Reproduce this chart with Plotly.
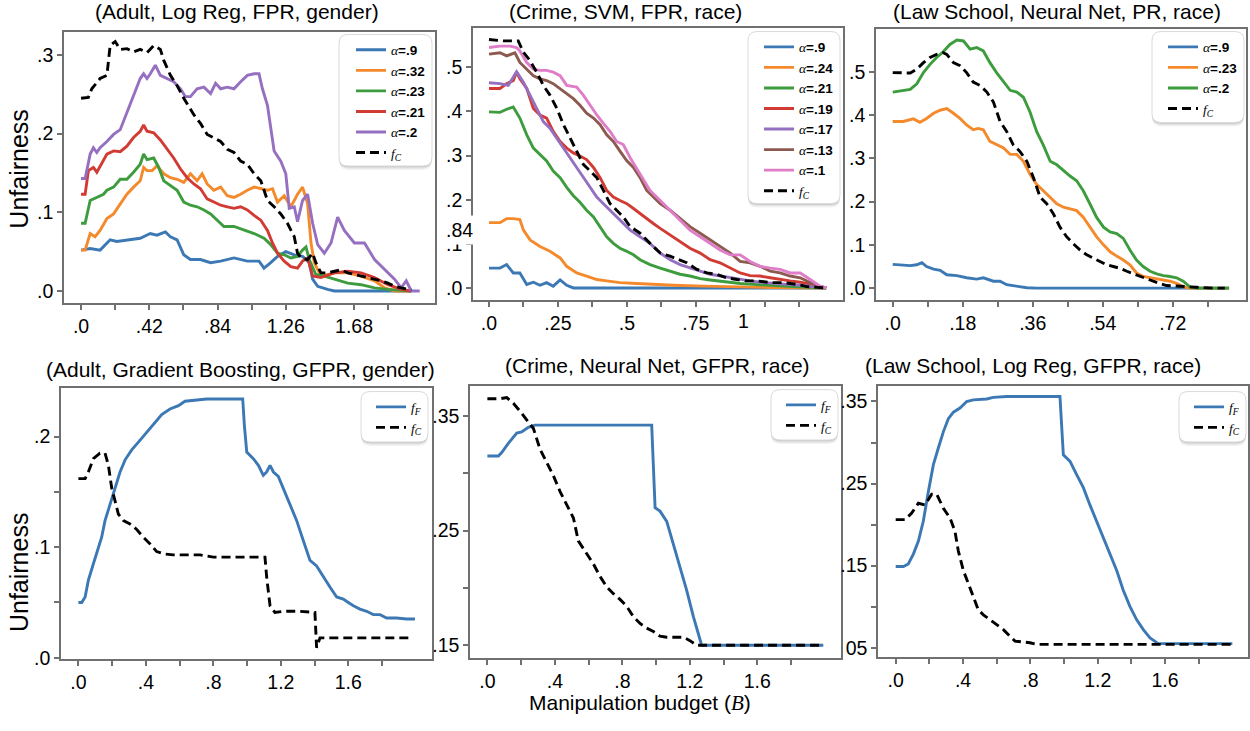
import plotly.graph_objects as go

W, H = 1250, 731

# ---------------- Panel 1: (Adult, Log Reg, FPR, gender) ----------------
p1_a9_x = [0,.056,.117,.179,.22,.282,.364,.426,.467,.519,.55,.591,.632,.673,.735,.797,.859,.941,1.023,1.095,1.126,1.167,1.209,1.26,1.312,1.363,1.404,1.425,1.456,1.517,1.559,2.032]
p1_a9_y = [.052,.054,.052,.065,.063,.065,.067,.073,.071,.075,.069,.065,.046,.04,.04,.036,.038,.042,.038,.038,.029,.036,.044,.05,.046,.044,.036,.015,.006,.002,0,0]
p1_a32_x = [0,.025,.056,.086,.117,.159,.2,.241,.282,.323,.364,.385,.406,.437,.467,.509,.55,.591,.632,.673,.714,.745,.776,.817,.859,.9,.941,.982,1.023,1.065,1.106,1.147,1.178,1.209,1.25,1.291,1.332,1.363,1.394,1.415,1.435,1.476,1.559,1.641,1.723,1.806,1.868,1.929,2.032]
p1_a32_y = [.052,.052,.073,.069,.077,.092,.098,.111,.123,.132,.14,.157,.153,.153,.159,.149,.144,.142,.138,.149,.14,.149,.136,.128,.132,.121,.119,.123,.128,.132,.13,.128,.13,.113,.121,.107,.123,.132,.111,.061,.036,.019,.023,.023,.019,.013,.004,0,0]
p1_a23_x = [0,.025,.056,.097,.138,.159,.2,.241,.282,.323,.364,.385,.406,.447,.478,.509,.55,.591,.632,.673,.714,.756,.797,.838,.879,.941,1.003,1.065,1.126,1.167,1.209,1.25,1.291,1.332,1.363,1.384,1.404,1.445,1.497,1.559,1.641,1.723,1.806,1.888,2.032]
p1_a23_y = [.086,.086,.115,.119,.123,.128,.132,.142,.142,.151,.161,.174,.167,.169,.157,.140,.134,.128,.113,.109,.107,.103,.098,.09,.082,.082,.077,.073,.067,.059,.048,.046,.042,.044,.052,.056,.04,.021,.019,.015,.010,.008,.004,.002,0]
p1_a21_x = [0,.025,.045,.076,.097,.117,.159,.2,.241,.282,.323,.364,.385,.406,.447,.488,.529,.57,.612,.653,.694,.735,.776,.817,.859,.9,.941,.982,1.023,1.065,1.106,1.147,1.178,1.209,1.25,1.291,1.332,1.363,1.394,1.425,1.476,1.559,1.641,1.723,1.806,1.888,1.97,2.032]
p1_a21_y = [.123,.123,.153,.157,.151,.159,.174,.178,.177,.184,.195,.203,.211,.203,.201,.192,.18,.169,.155,.144,.136,.13,.117,.113,.109,.107,.105,.107,.103,.096,.09,.077,.061,.048,.038,.031,.029,.038,.042,.019,.017,.023,.025,.023,.017,.008,.002,0]
p1_a2_x = [0,.025,.056,.076,.097,.117,.159,.2,.241,.282,.323,.364,.385,.406,.426,.457,.488,.529,.57,.612,.642,.673,.714,.756,.797,.828,.859,.9,.941,.982,1.023,1.065,1.095,1.116,1.147,1.188,1.229,1.26,1.281,1.312,1.332,1.363,1.394,1.425,1.456,1.497,1.538,1.579,1.62,1.682,1.744,1.806,1.868,1.929,1.97,2.001,2.032,2.084]
p1_a2_y = [.143,.143,.174,.182,.176,.182,.19,.199,.205,.226,.249,.27,.276,.27,.276,.287,.274,.27,.266,.257,.247,.247,.257,.259,.251,.264,.257,.259,.257,.266,.274,.276,.276,.257,.236,.178,.165,.149,.105,.107,.088,.115,.123,.086,.059,.048,.061,.094,.077,.061,.061,.040,.027,.015,.004,.013,0,0]
p1_fc_x = [0,.045,.066,.117,.159,.179,.21,.241,.282,.323,.364,.406,.447,.488,.509,.55,.591,.632,.694,.735,.776,.817,.859,.9,.941,.982,1.023,1.065,1.106,1.126,1.147,1.188,1.229,1.27,1.312,1.332,1.353,1.394,1.425,1.445,1.476,1.517,1.559,1.6,1.641,1.682,1.723,1.765,1.806,1.847,1.888,1.929,1.97,2.032]
p1_fc_y = [.245,.246,.257,.27,.274,.312,.317,.307,.308,.304,.307,.303,.312,.307,.293,.274,.261,.245,.224,.213,.199,.195,.19,.18,.176,.165,.161,.149,.14,.128,.115,.107,.098,.086,.069,.048,.042,.04,.048,.036,.023,.023,.025,.027,.023,.021,.019,.017,.015,.013,.010,.006,.004,.001]

# ---------------- Panel 2: (Crime, SVM, FPR, race) ----------------
p2_a9_x = [0,.04,.064,.088,.112,.137,.161,.185,.209,.233,.258,.282,.306,1.223]
p2_a9_y = [.045,.045,.053,.034,.034,.008,.013,.006,.012,.004,.018,.006,0,0]
p2_a24_x = [0,.04,.064,.088,.112,.125,.149,.185,.221,.258,.282,.318,.354,.391,.427,.475,.536,.596,.669,.778,.899,1.02,1.223]
p2_a24_y = [.148,.148,.157,.157,.155,.131,.109,.094,.083,.068,.049,.034,.027,.019,.016,.012,.01,.008,.006,.004,.002,.001,0]
p2_a21_x = [0,.04,.064,.088,.112,.137,.161,.185,.209,.233,.258,.282,.306,.33,.354,.379,.403,.427,.451,.475,.5,.524,.548,.584,.621,.657,.693,.729,.766,.802,.838,.875,.911,.959,1.008,1.056,1.104,1.223]
p2_a21_y = [.399,.398,.405,.41,.385,.347,.317,.303,.288,.265,.25,.228,.209,.194,.176,.161,.139,.116,.101,.09,.083,.075,.064,.053,.045,.038,.031,.027,.021,.018,.015,.012,.01,.008,.006,.004,.003,0]
p2_a19_x = [0,.04,.064,.088,.1,.112,.137,.161,.185,.209,.233,.258,.282,.306,.33,.354,.379,.403,.427,.451,.475,.5,.524,.548,.572,.596,.621,.657,.693,.729,.766,.802,.838,.875,.911,.947,.983,1.02,1.056,1.092,1.129,1.165,1.201,1.223]
p2_a19_y = [.452,.452,.463,.47,.489,.474,.452,.407,.392,.385,.355,.332,.317,.306,.299,.291,.273,.25,.221,.206,.198,.191,.18,.168,.157,.146,.135,.12,.105,.09,.079,.064,.057,.045,.034,.028,.027,.023,.019,.016,.013,.008,.002,0]
p2_a17_x = [0,.04,.07,.1,.125,.149,.173,.197,.221,.246,.27,.294,.318,.342,.367,.391,.415,.439,.463,.487,.512,.548,.584,.621,.657,.693,.729,.766,.802,.838,.875,.911,.947,.983,1.032,1.08,1.129,1.177,1.223]
p2_a17_y = [.465,.463,.459,.49,.466,.437,.407,.377,.362,.34,.317,.295,.273,.25,.228,.206,.191,.176,.161,.146,.131,.116,.101,.079,.064,.053,.045,.038,.031,.027,.023,.019,.016,.013,.01,.008,.006,.003,0]
p2_a13_x = [0,.04,.064,.094,.112,.137,.161,.185,.209,.233,.258,.282,.306,.33,.354,.379,.403,.427,.451,.475,.5,.524,.548,.572,.596,.621,.657,.693,.729,.766,.802,.838,.875,.911,.947,.983,1.02,1.056,1.092,1.129,1.165,1.201,1.223]
p2_a13_y = [.53,.533,.526,.533,.511,.496,.481,.474,.47,.463,.452,.44,.429,.414,.396,.385,.37,.347,.332,.31,.288,.273,.25,.221,.206,.191,.176,.157,.139,.124,.109,.094,.079,.06,.057,.049,.038,.034,.027,.023,.012,.003,0]
p2_a1_x = [0,.04,.076,.1,.112,.137,.161,.185,.209,.233,.258,.282,.318,.342,.367,.391,.415,.439,.463,.487,.512,.548,.584,.621,.657,.693,.729,.766,.802,.838,.875,.911,.947,.983,1.02,1.056,1.092,1.129,1.165,1.201,1.223]
p2_a1_y = [.545,.548,.548,.545,.537,.511,.496,.493,.493,.489,.481,.459,.455,.437,.414,.392,.373,.355,.332,.325,.295,.258,.221,.198,.176,.153,.131,.116,.101,.086,.075,.075,.06,.049,.045,.042,.034,.034,.019,.004,0]
p2_fc_x = [0,.052,.088,.106,.125,.149,.173,.197,.221,.246,.27,.294,.318,.342,.367,.391,.415,.439,.463,.487,.512,.548,.584,.621,.657,.693,.717,.754,.79,.826,.862,.899,.935,.971,1.02,1.068,1.116,1.153,1.189,1.223]
p2_fc_y = [.563,.56,.56,.56,.534,.515,.489,.459,.437,.407,.37,.34,.31,.28,.265,.25,.221,.191,.176,.161,.139,.124,.101,.079,.072,.064,.057,.042,.034,.031,.023,.019,.016,.016,.012,.012,.008,.003,.001,0]

# ---------------- Panel 3: (Law School, Neural Net, PR, race) ----------------
p3_a9_x = [0,.027,.045,.062,.075,.087,.105,.122,.139,.165,.19,.216,.233,.259,.276,.293,.319,.345,.37,.865]
p3_a9_y = [.055,.054,.052,.054,.059,.05,.044,.041,.031,.029,.024,.021,.024,.016,.016,.008,.005,.001,0,0]
p3_a23_x = [0,.027,.053,.07,.087,.105,.122,.139,.156,.173,.19,.207,.22,.233,.25,.267,.285,.302,.319,.336,.353,.37,.387,.405,.422,.439,.456,.473,.49,.507,.524,.542,.559,.576,.593,.61,.627,.644,.662,.679,.696,.713,.73,.747,.764,.865]
p3_a23_y = [.385,.385,.391,.383,.392,.404,.411,.415,.404,.392,.377,.366,.369,.366,.339,.331,.324,.309,.309,.293,.263,.24,.225,.21,.195,.187,.183,.179,.164,.141,.119,.1,.084,.074,.065,.054,.035,.027,.024,.021,.018,.016,.011,.003,0,0]
p3_a2_x = [0,.019,.045,.062,.079,.096,.113,.13,.147,.165,.182,.199,.216,.233,.25,.267,.285,.302,.319,.336,.353,.37,.387,.405,.422,.439,.456,.473,.49,.507,.524,.542,.559,.576,.593,.61,.627,.644,.662,.679,.696,.713,.73,.747,.764,.782,.865]
p3_a2_y = [.453,.455,.459,.472,.498,.517,.533,.546,.563,.573,.571,.552,.556,.548,.521,.498,.476,.457,.453,.441,.407,.362,.331,.293,.285,.271,.259,.248,.225,.195,.164,.141,.13,.126,.115,.088,.065,.05,.039,.033,.029,.027,.024,.016,.003,0,0]
p3_fc_x = [0,.019,.045,.062,.079,.096,.113,.13,.139,.156,.173,.19,.207,.225,.242,.259,.276,.293,.31,.327,.345,.362,.379,.396,.413,.43,.447,.464,.482,.499,.516,.533,.55,.567,.584,.602,.619,.636,.653,.67,.687,.704,.73,.756,.782,.824,.854]
p3_fc_y = [.498,.498,.497,.506,.521,.533,.54,.544,.54,.521,.514,.498,.476,.468,.453,.43,.385,.362,.331,.316,.293,.255,.21,.195,.172,.141,.119,.103,.088,.077,.069,.062,.054,.05,.046,.039,.033,.027,.021,.016,.011,.006,.005,.003,.002,0,0]

# ---------------- Panel 4: (Adult, Gradient Boosting, GFPR, gender) ----------------
p4_ff_x = [0,.02,.04,.059,.089,.119,.138,.158,.188,.217,.247,.277,.316,.356,.395,.444,.494,.543,.593,.632,.681,.76,.84,.919,.974,.984,.998,1.037,1.067,1.096,1.116,1.136,1.156,1.185,1.215,1.254,1.294,1.333,1.373,1.412,1.452,1.491,1.531,1.57,1.6,1.63,1.669,1.709,1.748,1.788,1.827,1.886,1.946,1.995]
p4_ff_y = [.05,.05,.055,.07,.085,.1,.109,.124,.139,.153,.168,.179,.188,.195,.202,.211,.22,.225,.228,.232,.233,.234,.234,.234,.234,.21,.186,.18,.174,.165,.168,.174,.168,.164,.153,.139,.124,.106,.088,.083,.073,.064,.055,.053,.05,.047,.044,.042,.039,.039,.036,.036,.035,.035]
p4_fc_x = [0,.04,.059,.089,.128,.158,.178,.198,.217,.237,.267,.306,.346,.385,.425,.464,.504,.563,.642,.721,.8,.919,1.037,1.106,1.116,1.136,1.165,1.215,1.314,1.402,1.412,1.432,1.462,1.61,1.807,1.985]
p4_fc_y = [.162,.162,.168,.18,.185,.185,.174,.153,.142,.13,.124,.121,.116,.109,.103,.096,.094,.093,.093,.093,.091,.091,.091,.091,.073,.047,.041,.042,.042,.041,.009,.018,.018,.018,.018,.018]

# ---------------- Panel 5: (Crime, Neural Net, GFPR, race) ----------------
p5_ff_x = [0,.065,.085,.124,.174,.203,.243,.282,.391,.589,.786,.974,.994,1.023,1.063,1.102,1.142,1.181,1.221,1.27,1.379,1.991]
p5_ff_y = [.315,.315,.318,.326,.335,.336,.34,.342,.342,.342,.342,.342,.27,.267,.258,.238,.218,.198,.175,.15,.15,.15]
p5_fc_x = [0,.075,.115,.154,.194,.233,.273,.312,.352,.391,.431,.47,.51,.539,.589,.628,.668,.707,.747,.786,.826,.865,.905,.944,.984,1.023,1.063,1.162,1.201,1.241,1.991]
p5_fc_y = [.365,.365,.366,.361,.354,.347,.339,.321,.31,.298,.284,.273,.261,.241,.23,.221,.21,.201,.195,.19,.184,.175,.169,.165,.162,.158,.157,.157,.154,.15,.15]

# ---------------- Panel 6: (Law School, Log Reg, GFPR, race) ----------------
p6_ff_x = [0,.046,.075,.105,.135,.164,.194,.224,.253,.283,.313,.343,.382,.422,.461,.541,.58,.659,.798,.976,.996,1.036,1.075,1.115,1.154,1.194,1.234,1.273,1.313,1.352,1.392,1.432,1.471,1.511,1.56,1.61,2.0]
p6_ff_y = [.149,.149,.152,.164,.18,.204,.24,.273,.293,.313,.329,.337,.342,.35,.352,.353,.355,.356,.356,.356,.285,.277,.261,.245,.224,.204,.184,.164,.144,.12,.1,.084,.072,.062,.055,.055,.055]
p6_fc_x = [0,.055,.095,.135,.174,.214,.244,.283,.323,.352,.372,.402,.432,.461,.491,.521,.56,.6,.64,.679,.709,.758,.798,.838,.996,2.0]
p6_fc_y = [.206,.206,.214,.226,.224,.237,.237,.22,.208,.192,.168,.144,.128,.112,.096,.09,.084,.078,.072,.064,.058,.057,.056,.054,.054,.054]

titles = ["(Adult, Log Reg, FPR, gender)", "(Crime, SVM, FPR, race)",
          "(Law School, Neural Net, PR, race)", "(Adult, Gradient Boosting, GFPR, gender)",
          "(Crime, Neural Net, GFPR, race)", "(Law School, Log Reg, GFPR, race)"]

BLUE, ORANGE, GREEN, RED = "#3b78b4", "#f48a2c", "#3d9c3d", "#d23a34"
PURPLE, BROWN, PINK = "#9570c1", "#8c5a4f", "#e07dc8"

SERIF = "Liberation Serif"
SANS = "Liberation Sans"
LEG_FONT = 13.5

def alpha_label(v):
    return ('<span style="font-family:%s"><i>α</i></span><b>=%s</b>' % (SERIF, v))

def f_label(sub):
    return ('<span style="font-family:%s"><i>f</i><sub><i>%s</i></sub></span>' % (SERIF, sub))

panels = [
    [(p1_a9_x, p1_a9_y, BLUE, alpha_label(".9")), (p1_a32_x, p1_a32_y, ORANGE, alpha_label(".32")),
     (p1_a23_x, p1_a23_y, GREEN, alpha_label(".23")), (p1_a21_x, p1_a21_y, RED, alpha_label(".21")),
     (p1_a2_x, p1_a2_y, PURPLE, alpha_label(".2")), (p1_fc_x, p1_fc_y, "black", f_label("C"))],
    [(p2_a9_x, p2_a9_y, BLUE, alpha_label(".9")), (p2_a24_x, p2_a24_y, ORANGE, alpha_label(".24")),
     (p2_a21_x, p2_a21_y, GREEN, alpha_label(".21")), (p2_a19_x, p2_a19_y, RED, alpha_label(".19")),
     (p2_a17_x, p2_a17_y, PURPLE, alpha_label(".17")), (p2_a13_x, p2_a13_y, BROWN, alpha_label(".13")),
     (p2_a1_x, p2_a1_y, PINK, alpha_label(".1")), (p2_fc_x, p2_fc_y, "black", f_label("C"))],
    [(p3_a9_x, p3_a9_y, BLUE, alpha_label(".9")), (p3_a23_x, p3_a23_y, ORANGE, alpha_label(".23")),
     (p3_a2_x, p3_a2_y, GREEN, alpha_label(".2")), (p3_fc_x, p3_fc_y, "black", f_label("C"))],
    [(p4_ff_x, p4_ff_y, BLUE, f_label("F")), (p4_fc_x, p4_fc_y, "black", f_label("C"))],
    [(p5_ff_x, p5_ff_y, BLUE, f_label("F")), (p5_fc_x, p5_fc_y, "black", f_label("C"))],
    [(p6_ff_x, p6_ff_y, BLUE, f_label("F")), (p6_fc_x, p6_fc_y, "black", f_label("C"))],
]

# pixel boxes of each plot frame: (left, right, top, bottom)
boxes = [(64, 435, 32, 307), (473, 843, 28, 304), (876, 1246, 29, 304),
         (61, 432, 393, 668), (470, 841, 391, 667), (878, 1248, 391, 666)]
xranges = [(-0.105, 2.178), (-0.058, 1.284), (-0.043, 0.9085),
           (-0.103, 2.096), (-0.103, 2.096), (-0.105, 2.093)]
yranges = [(-0.015, 0.3297), (-0.027, 0.590), (-0.027, 0.5996),
           (-0.001, 0.2443), (0.139, 0.3764), (0.0388, 0.3693)]
xticks = [
    ([0, .21, .42, .63, .84, 1.05, 1.26, 1.47, 1.68, 1.89], [".0", "", ".42", "", ".84", "", "1.26", "", "1.68", ""]),
    ([0, .125, .25, .375, .5, .625, .75, .875, 1.0, 1.125], [".0", "", ".25", "", ".5", "", ".75", "", "", ""]),
    ([0, .09, .18, .27, .36, .45, .54, .63, .72, .81], [".0", "", ".18", "", ".36", "", ".54", "", ".72", ""]),
    ([0, .2, .4, .6, .8, 1.0, 1.2, 1.4, 1.6, 1.8], [".0", "", ".4", "", ".8", "", "1.2", "", "1.6", ""]),
    ([0, .2, .4, .6, .8, 1.0, 1.2, 1.4, 1.6, 1.8], [".0", "", ".4", "", ".8", "", "1.2", "", "1.6", ""]),
    ([0, .2, .4, .6, .8, 1.0, 1.2, 1.4, 1.6, 1.8], [".0", "", ".4", "", ".8", "", "1.2", "", "1.6", ""]),
]
yticks = [
    ([0, .1, .2, .3], [".0", ".1", ".2", ".3"]),
    ([0, .1, .2, .3, .4, .5], [".0", ".1", ".2", ".3", ".4", ".5"]),
    ([0, .1, .2, .3, .4, .5], [".0", ".1", ".2", ".3", ".4", ".5"]),
    ([0, .05, .1, .15, .2], [".0", "", ".1", "", ".2"]),
    ([.15, .2, .25, .3, .35], [".15", "", ".25", "", ".35"]),
    ([.05, .1, .15, .2, .25, .3, .35], ["05", "", ".15", "", ".25", "", ".35"]),
]
# legend anchors (top-right corner, pixels) and rounded box widths
legend_pos = [(431, 35), (839, 32), (1243, 32), (427, 397), (837, 395), (1245, 397)]
legend_w = [92, 91, 91, 66, 66, 66]
title_pos = [(237, 12), (625, 12), (1057, 12), (240, 375), (657, 371), (1033, 371)]


def rounded_path(x0, y0, x1, y1, r=9):
    """rounded rectangle in pixel coords (y down) -> paper path"""
    def P(x, y):
        return "%.5f,%.5f" % (x / W, 1 - y / H)
    return ("M%s L%s Q%s %s L%s Q%s %s L%s Q%s %s L%s Q%s %s Z" % (
        P(x0 + r, y0), P(x1 - r, y0), P(x1, y0), P(x1, y0 + r), P(x1, y1 - r),
        P(x1, y1), P(x1 - r, y1), P(x0 + r, y1), P(x0, y1), P(x0, y1 - r),
        P(x0, y0 + r), P(x0, y0), P(x0 + r, y0)))


fig = go.Figure()
layout = dict(width=W, height=H, margin=dict(l=0, r=0, t=0, b=0),
              paper_bgcolor="white", plot_bgcolor="white",
              font=dict(family=SANS, color="black"), annotations=[], shapes=[])

row_h = max(LEG_FONT * 1.3, 16) + 3
for i, series in enumerate(panels):
    n = "" if i == 0 else str(i + 1)
    leg = "legend" if i == 0 else "legend%d" % (i + 1)
    for (xs, ys, col, name) in series:
        dashed = col == "black"
        fig.add_trace(go.Scatter(
            x=xs, y=ys, mode="lines", name=name,
            line=dict(color=col, width=2.9, dash="9px,5px" if dashed else "solid"),
            xaxis="x" + n, yaxis="y" + n, legend=leg, showlegend=True))
    l, r, t, b = boxes[i]
    axcommon = dict(showline=True, mirror=True, linecolor="#707070", linewidth=1.5,
                    ticks="outside", ticklen=5, tickcolor="#707070", tickwidth=1.5,
                    showgrid=False, zeroline=False, tickmode="array",
                    tickfont=dict(family=SANS, size=19.5, color="black"))
    layout["xaxis" + n] = dict(axcommon, domain=[l / W, r / W], range=list(xranges[i]),
                               tickvals=xticks[i][0], ticktext=xticks[i][1],
                               anchor="y" + n)
    layout["yaxis" + n] = dict(axcommon, domain=[1 - b / H, 1 - t / H], range=list(yranges[i]),
                               tickvals=yticks[i][0], ticktext=yticks[i][1],
                               anchor="x" + n)
    lx, ly = legend_pos[i]
    layout[leg] = dict(x=lx / W, y=1 - ly / H, xanchor="right", yanchor="top",
                       bgcolor="rgba(0,0,0,0)", borderwidth=0,
                       font=dict(family=SANS, size=LEG_FONT, color="black"),
                       tracegroupgap=0, itemwidth=30)
    # rounded legend frame with a soft shadow
    bx0, bx1 = lx - legend_w[i], lx + 1
    by0, by1 = ly, ly + row_h * len(series) + 10
    for dy, a in ((4, 0.05), (2.5, 0.07), (1.2, 0.09)):
        layout["shapes"].append(dict(type="path", xref="paper", yref="paper", layer="above",
                                     path=rounded_path(bx0, by0 + dy, bx1, by1 + dy),
                                     fillcolor="rgba(0,0,0,%.2f)" % a, line=dict(width=0)))
    layout["shapes"].append(dict(type="path", xref="paper", yref="paper", layer="above",
                                 path=rounded_path(bx0, by0, bx1, by1),
                                 fillcolor="white", line=dict(color="#dadada", width=1)))
    tx, ty = title_pos[i]
    layout["annotations"].append(dict(text=titles[i], x=tx / W, y=1 - ty / H, xref="paper",
                                      yref="paper", showarrow=False,
                                      xanchor="center", yanchor="middle",
                                      font=dict(family=SANS, size=21, color="black")))

for cy in (171, 580):
    layout["annotations"].append(dict(text="Unfairness", x=19 / W, y=1 - cy / H, xref="paper",
                                      yref="paper", showarrow=False, textangle=-90,
                                      xanchor="center", yanchor="middle",
                                      font=dict(family=SANS, size=25, color="black")))
layout["annotations"].append(dict(
    text='Manipulation budget (<span style="font-family:%s"><i>B</i></span>)' % SERIF,
    x=640 / W, y=1 - 713 / H, xref="paper", yref="paper", showarrow=False,
    xanchor="center", yanchor="middle",
    font=dict(family=SANS, size=21, color="black")))
# the "1" tick label of the second panel sits left of its tick in the original
layout["annotations"].append(dict(text="1", x=0.923, xref="x2", y=1 - 325 / H, yref="paper",
                                  showarrow=False, xanchor="center", yanchor="middle",
                                  font=dict(family=SANS, size=19.5, color="black")))
# stray label visible in the original figure composition
layout["annotations"].append(dict(text=".84", x=459 / W, y=1 - 233 / H, xref="paper",
                                  yref="paper", showarrow=False, bgcolor="white",
                                  xanchor="center", yanchor="middle",
                                  borderpad=3, font=dict(family=SANS, size=19.5, color="black")))

fig.update_layout(**layout)
fig.write_html("out.html", config={"displayModeBar": False},
               post_script="document.body.style.margin='0';")
